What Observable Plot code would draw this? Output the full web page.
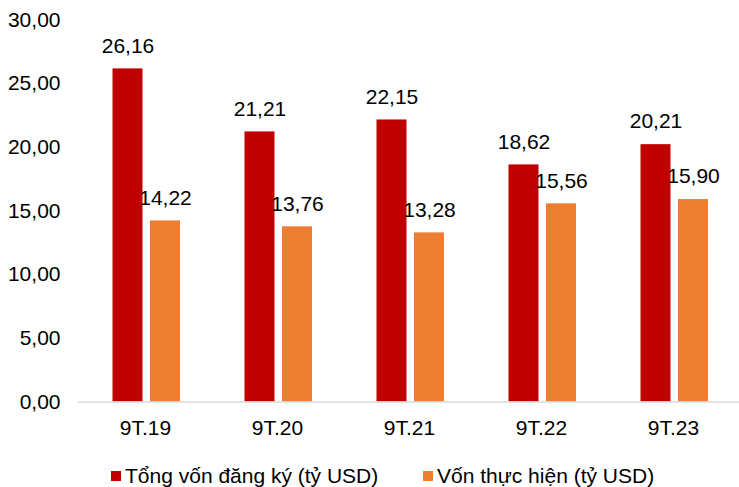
<!DOCTYPE html>
<html lang="vi">
<head>
<meta charset="utf-8">
<script src="https://cdn.jsdelivr.net/npm/d3@7"></script>
<script src="https://cdn.jsdelivr.net/npm/@observablehq/plot@0.6"></script>
<style>
  html, body { margin: 0; padding: 0; background: #fff; }
  body { font-family: "Liberation Sans", Arial, sans-serif; width: 739px; height: 487px; overflow: hidden; }
  #chart svg { display: block; }
  .legend { position: relative; height: 35px; font-size: 21px; color: #000; }
  .legend .item { position: absolute; top: 0; display: flex; align-items: center; height: 48px; }
  .legend .sw { width: 10px; height: 10px; margin-right: 4px; }
</style>
</head>
<body>
<div id="chart"></div>
<div class="legend" id="legend"></div>
<script>
// FDI theo 9 tháng đầu năm (tỷ USD)
const periods = ["9T.19", "9T.20", "9T.21", "9T.22", "9T.23"];
const registered = [26.16, 21.21, 22.15, 18.62, 20.21];   // Tổng vốn đăng ký
const disbursed = [14.22, 13.76, 13.28, 15.56, 15.90];    // Vốn thực hiện
const seriesNames = ["Tổng vốn đăng ký (tỷ USD)", "Vốn thực hiện (tỷ USD)"];
const seriesColors = ["#C00000", "#ED7D31"];
const yTicks = [0, 5, 10, 15, 20, 25, 30];

const fmt = v => v.toFixed(2).replace(".", ",");

const regRows = periods.map((p, i) => ({period: p, value: registered[i]}));
const disRows = periods.map((p, i) => ({period: p, value: disbursed[i]}));

const font = "Liberation Sans, Arial, sans-serif";

const chart = Plot.plot({
  width: 739,
  height: 452,
  marginLeft: 78,
  marginRight: 0,
  marginTop: 19.5,
  marginBottom: 50.5,
  style: {fontFamily: font, fontSize: "21px", color: "#000", background: "#fff"},
  x: {domain: periods, padding: 0, label: null},
  y: {domain: [0, 30], label: null},
  marks: [
    Plot.axisY({ticks: yTicks, tickFormat: fmt, tickSize: 0, tickPadding: 18, fontSize: 21, label: null}),
    Plot.axisX({tickSize: 0, tickPadding: 18, fontSize: 21, label: null}),
    Plot.barY(regRows, {x: "period", y: "value", fill: seriesColors[0], insetLeft: 33.5, insetRight: 68.5}),
    Plot.barY(disRows, {x: "period", y: "value", fill: seriesColors[1], insetLeft: 71, insetRight: 31}),
    Plot.ruleY([0], {stroke: "#D9D9D9", strokeWidth: 1.5}),
    Plot.text(regRows, {x: "period", y: "value", text: d => fmt(d.value), dx: -17.5, dy: -23, fontSize: 21, fill: "#000"}),
    Plot.text(disRows, {x: "period", y: "value", text: d => fmt(d.value), dx: 20, dy: -23, fontSize: 21, fill: "#000"})
  ]
});
document.getElementById("chart").appendChild(chart);

// Chú thích
const legend = document.getElementById("legend");
const lefts = [111, 423];
seriesNames.forEach((name, i) => {
  const item = document.createElement("div");
  item.className = "item";
  item.style.left = lefts[i] + "px";
  const sw = document.createElement("span");
  sw.className = "sw";
  sw.style.background = seriesColors[i];
  const label = document.createElement("span");
  label.textContent = name;
  item.appendChild(sw);
  item.appendChild(label);
  legend.appendChild(item);
});
</script>
</body>
</html>
